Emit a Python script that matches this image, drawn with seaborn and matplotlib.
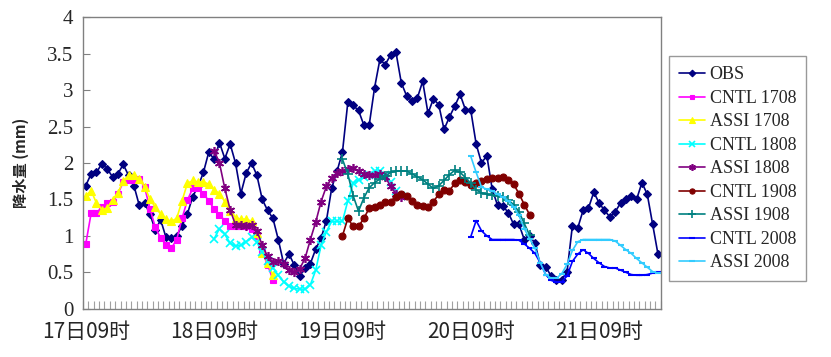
import matplotlib
matplotlib.use('Agg')
from matplotlib import pyplot as plt
from matplotlib.ticker import FixedLocator
import pandas as pd
import seaborn as sns

# hourly rainfall, hour 0 = 17日09时
tick_pos = [0, 24, 48, 72, 96]
tick_labels = ['17日09时', '18日09时', '19日09时', '20日09时', '21日09时']
y_ticks = [0, 0.5, 1, 1.5, 2, 2.5, 3, 3.5, 4]
y_tick_labels = ['0', '0.5', '1', '1.5', '2', '2.5', '3', '3.5', '4']

obs = [1.69, 1.85, 1.87, 1.99, 1.92, 1.81, 1.85, 1.98, 1.83, 1.69,
       1.42, 1.45, 1.30, 1.08, 1.22, 0.98, 0.97, 1.00, 1.14, 1.30,
       1.54, 1.68, 1.87, 2.15, 2.05, 2.28, 2.06, 2.26, 2.00, 1.58,
       1.86, 2.00, 1.83, 1.50, 1.35, 1.24, 0.95, 0.62, 0.75, 0.60,
       0.45, 0.56, 0.62, 0.82, 0.97, 1.21, 1.66, 1.89, 2.15, 2.83,
       2.79, 2.72, 2.52, 2.52, 3.03, 3.42, 3.35, 3.48, 3.52, 3.10,
       2.92, 2.85, 2.89, 3.12, 2.68, 2.88, 2.80, 2.46, 2.63, 2.78,
       2.94, 2.73, 2.72, 2.26, 2.00, 2.10, 1.64, 1.42, 1.41, 1.32,
       1.16, 1.16, 0.95, 1.00, 0.90, 0.60, 0.58, 0.45, 0.39, 0.40,
       0.51, 1.14, 1.11, 1.35, 1.38, 1.60, 1.45, 1.35, 1.26, 1.33,
       1.45, 1.50, 1.55, 1.50, 1.73, 1.57, 1.16, 0.75]

cntl_1708 = [0.89, 1.31, 1.31, 1.40, 1.45, 1.47, 1.57, 1.74, 1.77, 1.77,
             1.78, 1.67, 1.37, 1.12, 0.97, 0.88, 0.83, 0.95, 1.24, 1.49,
             1.65, 1.65, 1.58, 1.48, 1.37, 1.29, 1.21, 1.14, 1.14, 1.14,
             1.14, 1.09, 1.00, 0.78, 0.60, 0.40]
assi_1708 = [1.55, 1.62, 1.45, 1.36, 1.38, 1.49, 1.59, 1.75, 1.83, 1.83,
             1.78, 1.67, 1.51, 1.39, 1.30, 1.23, 1.20, 1.24, 1.48, 1.72,
             1.76, 1.74, 1.74, 1.71, 1.63, 1.58, 1.47, 1.34, 1.25, 1.23,
             1.23, 1.20, 1.04, 0.77, 0.63, 0.46]
cntl_1808 = [0.96, 1.10, 1.02, 0.90, 0.86, 0.87, 0.92, 0.98, 0.91, 0.78,
             0.65, 0.56, 0.46, 0.37, 0.31, 0.28, 0.27, 0.27, 0.33, 0.53,
             0.87, 1.06, 1.20, 1.20, 1.20, 1.48, 1.72, 1.77, 1.81, 1.84,
             1.89, 1.89, 1.84, 1.74, 1.62, 1.55]
assi_1808 = [2.17, 2.00, 1.65, 1.36, 1.15, 1.15, 1.14, 1.15, 1.07, 0.87,
             0.72, 0.64, 0.66, 0.62, 0.53, 0.51, 0.55, 0.69, 0.95, 1.19,
             1.47, 1.68, 1.79, 1.86, 1.89, 1.92, 1.93, 1.89, 1.85, 1.84,
             1.83, 1.85, 1.81, 1.68, 1.58, 1.54]
cntl_1908 = [1.00, 1.24, 1.13, 1.13, 1.24, 1.38, 1.40, 1.42, 1.47, 1.47,
             1.54, 1.58, 1.55, 1.48, 1.42, 1.41, 1.40, 1.47, 1.57, 1.63,
             1.62, 1.72, 1.77, 1.74, 1.70, 1.73, 1.75, 1.78, 1.79, 1.80,
             1.81, 1.77, 1.71, 1.58, 1.43, 1.29]
assi_1908 = [2.05, 1.85, 1.55, 1.34, 1.52, 1.66, 1.73, 1.78, 1.82, 1.87,
             1.89, 1.89, 1.89, 1.85, 1.81, 1.77, 1.71, 1.65, 1.69, 1.76,
             1.84, 1.90, 1.87, 1.80, 1.72, 1.63, 1.59, 1.57, 1.56, 1.55,
             1.53, 1.49, 1.43, 1.33, 1.17, 1.01]
cntl_2008 = [0.99, 1.21, 1.07, 1.00, 0.95, 0.95, 0.95, 0.95, 0.95, 0.94,
             0.89, 0.83, 0.76, 0.63, 0.47, 0.39, 0.37, 0.37, 0.45, 0.65,
             0.75, 0.81, 0.76, 0.69, 0.63, 0.58, 0.56, 0.56, 0.53, 0.50,
             0.47, 0.46, 0.46, 0.47, 0.49, 0.50]
assi_2008 = [2.09, 1.87, 1.67, 1.64, 1.62, 1.57, 1.53, 1.48, 1.40, 1.28,
             1.10, 0.96, 0.83, 0.63, 0.47, 0.42, 0.42, 0.48, 0.61, 0.80,
             0.92, 0.95, 0.95, 0.95, 0.95, 0.95, 0.95, 0.93, 0.87, 0.81,
             0.76, 0.69, 0.63, 0.57, 0.51, 0.49]

# name, values, first hour, colour, marker, marker size, edge width
series = [
    ('OBS', obs, 0, '#000080', 'D', 4.5, 0.8),
    ('CNTL 1708', cntl_1708, 0, '#FF00FF', 's', 4.5, 0.8),
    ('ASSI 1708', assi_1708, 0, '#FFFF00', '^', 5.5, 0.8),
    ('CNTL 1808', cntl_1808, 24, '#00FFFF', 'x', 5.5, 1.2),
    ('ASSI 1808', assi_1808, 24, '#800080', (6, 2, 0), 6.5, 1.2),
    ('CNTL 1908', cntl_1908, 48, '#800000', 'o', 5, 0.8),
    ('ASSI 1908', assi_1908, 48, '#008080', '+', 7, 1.2),
    ('CNTL 2008', cntl_2008, 72, '#0000FF', '_', 5, 1.5),
    ('ASSI 2008', assi_2008, 72, '#33CCFF', '_', 5, 1.5),
]

sns.set_style('white')
fig, ax = plt.subplots(figsize=(8.31, 3.57), dpi=100)
fig.subplots_adjust(left=0.1, right=0.795, top=0.952, bottom=0.135)

for name, vals, start, col, mk, ms, mew in series:
    df = pd.DataFrame({'hour': range(start, start + len(vals)), 'rain': vals})
    sns.lineplot(data=df, x='hour', y='rain', ax=ax, color=col, marker=mk,
                 markersize=ms, markeredgecolor=col, markerfacecolor=col,
                 markeredgewidth=mew, linewidth=1.2, label=name)

ax.set_xlim(-0.5, 107.5)
ax.set_ylim(0, 4)
ax.set_xlabel('')
ax.set_ylabel('降水量 (mm)', family=['Noto Sans CJK SC'], fontsize=11,
              fontweight='bold', labelpad=13)

ax.xaxis.set_major_locator(FixedLocator(tick_pos))
ax.set_xticklabels(tick_labels, family=['Noto Sans CJK SC'], fontsize=15)
ax.xaxis.set_minor_locator(FixedLocator([h - 0.5 for h in range(109)]))
ax.tick_params(axis='x', which='major', length=0, pad=9)
ax.tick_params(axis='x', which='minor', direction='in', length=6,
               width=0.8, color='#A0A0A0', bottom=True)

ax.set_yticks(y_ticks)
ax.set_yticklabels(y_tick_labels, family=['Liberation Serif'], fontsize=15)
ax.tick_params(axis='y', direction='in', length=5, width=0.8,
               color='#808080', pad=7, left=True)

for sp in ax.spines.values():
    sp.set_color('#808080')
    sp.set_linewidth(1.0)

leg = ax.legend(loc='upper left', bbox_to_anchor=(0.805, 0.842),
                bbox_transform=fig.transFigure, borderaxespad=0,
                prop={'family': 'Liberation Serif', 'size': 13},
                fancybox=False, frameon=True, handlelength=1.45,
                handletextpad=0.25, labelspacing=0.36, borderpad=0.55,
                markerscale=0.75)
leg.get_frame().set_edgecolor('#808080')
leg.get_frame().set_linewidth(1.0)

fig.savefig('out.png', dpi=100)
